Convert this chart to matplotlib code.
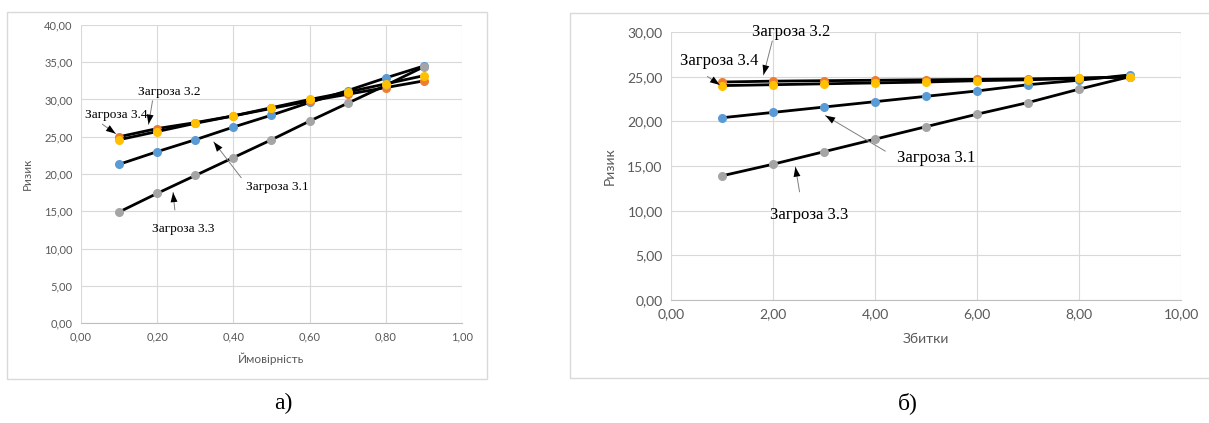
import matplotlib
matplotlib.use("Agg")
import matplotlib.pyplot as plt
from matplotlib.patches import Rectangle

# --- data ---
prob = [0.1, 0.2, 0.3, 0.4, 0.5, 0.6, 0.7, 0.8, 0.9]
risk_a_31 = [21.3, 23.0, 24.6, 26.3, 27.9, 29.6, 31.2, 32.9, 34.5]
risk_a_32 = [25.0, 26.1, 26.9, 27.8, 28.8, 29.8, 30.7, 31.6, 32.5]
risk_a_33 = [14.9, 17.4, 19.8, 22.2, 24.6, 27.1, 29.5, 31.9, 34.4]
risk_a_34 = [24.6, 25.7, 26.8, 27.8, 28.9, 30.0, 31.0, 32.1, 33.2]

damage = [1, 2, 3, 4, 5, 6, 7, 8, 9]
risk_b_31 = [20.4, 21.0, 21.6, 22.2, 22.8, 23.4, 24.1, 24.6, 25.2]
risk_b_32 = [24.4, 24.5, 24.55, 24.6, 24.65, 24.7, 24.75, 24.85, 24.95]
risk_b_33 = [13.9, 15.2, 16.6, 18.0, 19.4, 20.8, 22.1, 23.6, 25.0]
risk_b_34 = [24.0, 24.1, 24.2, 24.3, 24.4, 24.55, 24.65, 24.8, 25.0]

colors = ['#5B9BD5', '#ED7D31', '#A5A5A5', '#FFC000']

fig = plt.figure(figsize=(12.09, 4.23), dpi=100)
W, H = 1209, 423

def frame(x0, y0, x1, y1):
    fig.patches.append(Rectangle((x0 / W, 1 - y1 / H), (x1 - x0) / W, (y1 - y0) / H,
                                 transform=fig.transFigure, fill=False,
                                 ec='#d9d9d9', lw=1.0))

frame(7, 12, 487, 379)
frame(570, 13, 1215, 378)

ax1 = fig.add_axes([81 / W, 1 - 323 / H, 381 / W, 298 / H])
ax2 = fig.add_axes([671 / W, 1 - 300 / H, 510 / W, 268 / H])

def style(ax, fs):
    for s in ['top', 'right', 'left']:
        ax.spines[s].set_visible(False)
    ax.spines['bottom'].set_color('#bfbfbf')
    ax.grid(True, color='#d9d9d9', lw=0.8)
    ax.set_axisbelow(True)
    ax.tick_params(length=0, labelsize=fs, colors='#595959', pad=6)
    for lab in ax.get_xticklabels() + ax.get_yticklabels():
        lab.set_fontfamily('Lato')

fmt = lambda v, p: ('%.2f' % v).replace('.', ',')

def draw(ax, x, series):
    for ys, c in zip(series, colors):
        ax.plot(x, ys, color='black', lw=2.0, marker='o', ms=5.5,
                mfc=c, mec=c, zorder=3)

draw(ax1, prob, [risk_a_31, risk_a_32, risk_a_33, risk_a_34])
ax1.set_xlim(0, 1)
ax1.set_ylim(0, 40)
ax1.set_xticks([0, 0.2, 0.4, 0.6, 0.8, 1.0])
ax1.set_yticks(range(0, 41, 5))
ax1.xaxis.set_major_formatter(plt.FuncFormatter(fmt))
ax1.yaxis.set_major_formatter(plt.FuncFormatter(fmt))
style(ax1, 8)
ax1.set_xlabel('Ймовірність', fontsize=8.5, color='#595959', family='Lato', labelpad=7)
ax1.set_ylabel('Ризик', fontsize=8.5, color='#595959', family='Lato', labelpad=8)

draw(ax2, damage, [risk_b_31, risk_b_32, risk_b_33, risk_b_34])
ax2.set_xlim(0, 10)
ax2.set_ylim(0, 30)
ax2.set_xticks(range(0, 11, 2))
ax2.set_yticks(range(0, 31, 5))
ax2.xaxis.set_major_formatter(plt.FuncFormatter(fmt))
ax2.yaxis.set_major_formatter(plt.FuncFormatter(fmt))
style(ax2, 10)
ax2.set_xlabel('Збитки', fontsize=10, color='#595959', family='Lato', labelpad=9)
ax2.set_ylabel('Ризик', fontsize=10, color='#595959', family='Lato', labelpad=8)

def callout(ax, text, txy, start, head, fs):
    ax.text(txy[0], txy[1], text, fontsize=fs, family='Liberation Serif',
            ha='center', va='center', zorder=5)
    ax.annotate('', xy=head, xytext=start,
                arrowprops=dict(arrowstyle='-', color='#7f7f7f', lw=0.7), zorder=4)
    ax.annotate('', xy=head, xytext=start,
                arrowprops=dict(arrowstyle='-|>,head_length=0.7,head_width=0.25',
                                fc='black', ec='none', lw=0), zorder=6)

callout(ax1, 'Загроза 3.2', (0.231, 31.0), (0.189, 30.2), (0.176, 26.3), 9.5)
callout(ax1, 'Загроза 3.4', (0.092, 27.9), (0.05, 26.9), (0.097, 25.2), 9.5)
callout(ax1, 'Загроза 3.1', (0.514, 18.3), (0.425, 19.2), (0.344, 24.6), 9.5)
callout(ax1, 'Загроза 3.3', (0.267, 12.6), (0.247, 14.8), (0.241, 17.9), 9.5)

callout(ax2, 'Загроза 3.2', (2.35, 30.0), (2.0, 29.3), (1.80, 24.9), 12)
callout(ax2, 'Загроза 3.4', (0.94, 26.7), (0.67, 25.2), (1.0, 23.9), 12)
callout(ax2, 'Загроза 3.1', (5.2, 15.9), (4.25, 16.5), (2.98, 20.8), 12)
callout(ax2, 'Загроза 3.3', (2.7, 9.5), (2.53, 11.8), (2.43, 15.2), 12)

fig.text(283 / W, 1 - 403 / H, 'а)', fontsize=17, family='Liberation Serif',
         ha='center', va='center')
fig.text(908 / W, 1 - 403 / H, 'б)', fontsize=17, family='Liberation Serif',
         ha='center', va='center')

fig.savefig('out.png', dpi=100)
